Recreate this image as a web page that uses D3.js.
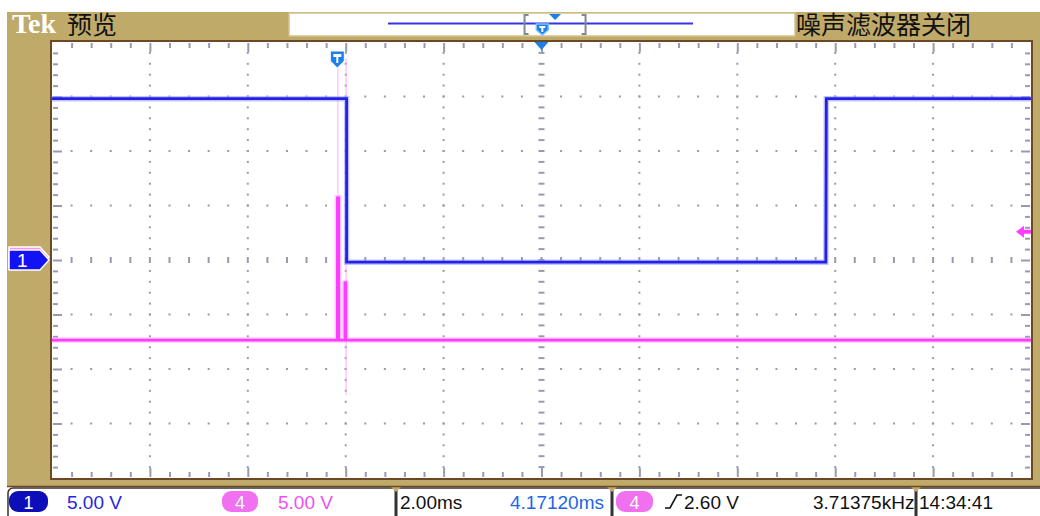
<!DOCTYPE html>
<html><head><meta charset="utf-8">
<script src="https://cdn.jsdelivr.net/npm/d3@7"></script>
<style>html,body{margin:0;padding:0;background:#fff;}svg{display:block}</style>
</head><body><svg id="scope" width="1040" height="516"></svg>
<script>
// Acquisition settings
const timePerDiv = 2.00;      // ms/div
const horizPos = 4.17120;     // ms at screen centre, relative to trigger
const ch1VoltsPerDiv = 5.00;
const ch4VoltsPerDiv = 5.00;
const trigLevel = 2.60;       // V, ch4 rising edge
const freqText = "3.71375kHz";
const clockText = "14:34:41";
const recordSpan = [-50.6, 49.4]; // ms covered by the full record

// Channel 1 record (time in ms, volts)
const ch1Time = [-5.83, 0.19, 0.19, 9.98, 9.99, 14.17];
const ch1Volt = [14.8, 14.8, -0.2, -0.2, 14.8, 14.8];

// Channel 4 record
const ch4Time = [-5.83, 0.00, 0.00, 0.03, 0.03, 0.155, 0.155, 0.175, 0.175, 14.17];
const ch4Volt = [-7.35, -7.35, 5.7, 5.7, -7.35, -7.35, -2.1, -2.1, -7.35, -7.35];

// Faint fast-edge traces on ch4 (time, top volts, bottom volts)
const ch4GhostTime = [0.01, 0.18];
const ch4GhostTop = [18.0, 18.5];
const ch4GhostBottom = [5.7, -12.4];

const W = 1040, H = 516;
const plot = {l: 52, r: 1031, t: 42, b: 478};
const tan = "#BFAA6A", brown = "#6E4824";
const blue = "#2222E6", pink = "#FF3CFF", azure = "#1E7FE6";

const svg = d3.select("#scope");

const x = d3.scaleLinear()
  .domain([horizPos - 5 * timePerDiv, horizPos + 5 * timePerDiv])
  .range([plot.l, plot.r]);
const y1 = d3.scaleLinear().domain([-4 * ch1VoltsPerDiv, 4 * ch1VoltsPerDiv]).range([plot.b, plot.t]);
const y4 = d3.scaleLinear().domain([-4 * ch4VoltsPerDiv, 4 * ch4VoltsPerDiv]).range([plot.b, plot.t]);

// Frame
svg.append("rect").attr("x", 0).attr("y", 0).attr("width", W).attr("height", H).attr("fill", "#fff");
svg.append("rect").attr("x", 7).attr("y", 12).attr("width", W - 7).attr("height", 475).attr("fill", tan);
svg.append("rect").attr("x", plot.l).attr("y", plot.t).attr("width", plot.r - plot.l).attr("height", plot.b - plot.t)
  .attr("fill", "#fff");

// Graticule
const minorX = d3.range(0, 51).map(i => x.domain()[0] + i * timePerDiv / 5);
const minorY = d3.range(0, 41).map(i => -20 + i * ch1VoltsPerDiv / 5);
const majorX = d3.range(1, 10).map(i => x.domain()[0] + i * timePerDiv);
const majorY = d3.range(1, 8).map(i => -20 + i * ch1VoltsPerDiv);
const grid = svg.append("g").attr("fill", "#9A9AAE");
const centreT = horizPos;

majorX.forEach(t => {
  if (Math.abs(t - centreT) < 1e-6) return;
  minorY.slice(1, -1).forEach(v => {
    if (Math.abs(v) < 1e-6) return;
    grid.append("rect").attr("x", x(t) - 1).attr("y", y1(v) - 1).attr("width", 2).attr("height", 2);
  });
});
majorY.forEach(v => {
  if (Math.abs(v) < 1e-6) return;
  minorX.slice(1, -1).forEach(t => {
    if (Math.abs(t - centreT) < 1e-6) return;
    grid.append("rect").attr("x", x(t) - 1).attr("y", y1(v) - 1).attr("width", 2).attr("height", 2);
  });
});
// centre crosshair ticks
minorX.slice(1, -1).forEach(t => {
  grid.append("rect").attr("x", x(t) - 1).attr("y", y1(0) - 3).attr("width", 2).attr("height", 6);
});
minorY.slice(1, -1).forEach(v => {
  grid.append("rect").attr("x", x(centreT) - 3).attr("y", y1(v) - 1).attr("width", 6).attr("height", 2);
});

// Border ticks via axes
const tickColor = "#9A9AAE";
function edgeAxis(axis, tx, ty) {
  const g = svg.append("g").attr("transform", `translate(${tx},${ty})`).call(axis);
  g.select(".domain").remove();
  g.selectAll("text").remove();
  g.selectAll("line").attr("stroke", tickColor).attr("stroke-width", 2);
  return g;
}
const minorXIn = minorX.slice(1, -1);
const minorYIn = minorY.slice(1, -1);
const isMajX = t => Math.abs(((t - x.domain()[0]) / timePerDiv) - Math.round((t - x.domain()[0]) / timePerDiv)) < 1e-6;
const isMajY = v => Math.abs(v / ch1VoltsPerDiv - Math.round(v / ch1VoltsPerDiv)) < 1e-6;
edgeAxis(d3.axisBottom(x).tickValues(minorXIn).tickSize(5).tickSizeOuter(0), 0, plot.t + 1)
  .selectAll("line").attr("y2", d => isMajX(d) ? 9 : 5);
edgeAxis(d3.axisTop(x).tickValues(minorXIn).tickSize(5).tickSizeOuter(0), 0, plot.b - 1)
  .selectAll("line").attr("y2", d => isMajX(d) ? -9 : -5);
edgeAxis(d3.axisRight(y1).tickValues(minorYIn).tickSize(5).tickSizeOuter(0), plot.l + 1, 0)
  .selectAll("line").attr("x2", d => isMajY(d) ? 9 : 5);
edgeAxis(d3.axisLeft(y1).tickValues(minorYIn).tickSize(5).tickSizeOuter(0), plot.r - 1, 0)
  .selectAll("line").attr("x2", d => isMajY(d) ? -9 : -5);

// Plot border
svg.append("rect").attr("x", plot.l - 1).attr("y", plot.t - 1).attr("width", plot.r - plot.l + 2)
  .attr("height", plot.b - plot.t + 2).attr("fill", "none").attr("stroke", brown).attr("stroke-width", 2);

// Waveforms
const traces = svg.append("g");
ch4GhostTime.forEach((t, i) => {
  traces.append("line").attr("x1", x(t)).attr("x2", x(t))
    .attr("y1", y4(ch4GhostTop[i])).attr("y2", y4(ch4GhostBottom[i]))
    .attr("stroke", "#FF9CFF").attr("stroke-width", 1.5).attr("opacity", 0.55);
});
const line1 = d3.line().x(i => x(ch1Time[i])).y(i => y1(ch1Volt[i]));
const line4 = d3.line().x(i => x(ch4Time[i])).y(i => y4(ch4Volt[i]));
const idx1 = d3.range(ch1Time.length), idx4 = d3.range(ch4Time.length);
traces.append("path").attr("d", line4(idx4)).attr("fill", "none").attr("stroke", "#FFA8FF").attr("stroke-width", 5.5).attr("opacity", 0.6);
traces.append("path").attr("d", line4(idx4)).attr("fill", "none").attr("stroke", pink).attr("stroke-width", 2.6);
traces.append("path").attr("d", line1(idx1)).attr("fill", "none").attr("stroke", "#9C9CFF").attr("stroke-width", 5.5).attr("opacity", 0.6);
traces.append("path").attr("d", line1(idx1)).attr("fill", "none").attr("stroke", blue).attr("stroke-width", 2.8);

// Channel ground markers (left)
function groundMarker(yc, fill, label, dy) {
  const g = svg.append("g").attr("transform", `translate(0,${yc + dy})`);
  g.append("path").attr("d", "M9,-10 H40 L49,0 L40,10 H9 Z").attr("fill", fill)
    .attr("stroke", "#fff").attr("stroke-width", 1.5).attr("stroke-linejoin", "round");
  if (label) g.append("text").attr("x", 17).attr("y", 7).attr("fill", "#fff")
    .attr("font-family", "Liberation Sans, Arial, sans-serif").attr("font-size", 19).text(label);
}
groundMarker(y4(0), "#FF90FF", "", -3);
groundMarker(y1(0), "#1212F2", "1", 0);

// Trigger level marker (right)
const ty = y4(trigLevel);
svg.append("path").attr("d", `M${plot.r - 15},${ty} L${plot.r - 7},${ty - 6} L${plot.r - 7},${ty - 2} H${plot.r} V${ty + 2} H${plot.r - 7} L${plot.r - 7},${ty + 6} Z`)
  .attr("fill", pink);

// Trigger position marker on top of graticule
const tx = x(0);
svg.append("path").attr("d", `M${tx - 7},${plot.t + 9} H${tx + 7} V${plot.t + 19} L${tx},${plot.t + 26} L${tx - 7},${plot.t + 19} Z`)
  .attr("fill", azure).attr("stroke", "#fff").attr("stroke-width", 1);
svg.append("path").attr("d", `M${tx - 4},${plot.t + 12} H${tx + 4} V${plot.t + 15} H${tx + 1} V${plot.t + 21} H${tx - 1} V${plot.t + 15} H${tx - 4} Z`).attr("fill", "#fff");
// Centre marker
const cx = x(horizPos);
svg.append("path").attr("d", `M${cx - 7},${plot.t} H${cx + 7} L${cx},${plot.t + 8} Z`).attr("fill", azure);

// Header
const sans = "Liberation Sans, Arial, sans-serif";
const cjk = "Noto Sans CJK SC, sans-serif";
svg.append("text").attr("x", 12).attr("y", 33).attr("fill", "#fff").attr("font-family", "Liberation Serif, serif")
  .attr("font-weight", "bold").attr("font-size", 28).text("Tek");
svg.append("text").attr("x", 67).attr("y", 34).attr("fill", "#111").attr("font-family", cjk)
  .attr("font-size", 25).text("预览");
svg.append("text").attr("x", 796).attr("y", 34).attr("fill", "#111").attr("font-family", cjk)
  .attr("font-size", 25).text("噪声滤波器关闭");

// Record overview bar
svg.append("rect").attr("x", 289).attr("y", 13).attr("width", 506).attr("height", 23)
  .attr("fill", "#fff").attr("stroke", "#D4C28A").attr("stroke-width", 1.5);
const ov = d3.scaleLinear().domain(recordSpan).range([388, 693]);
svg.append("line").attr("x1", ov(recordSpan[0])).attr("x2", ov(recordSpan[1])).attr("y1", 23.5).attr("y2", 23.5)
  .attr("stroke", "#3434E4").attr("stroke-width", 2);
const bx0 = ov(x.domain()[0]), bx1 = ov(x.domain()[1]);
const brk = svg.append("g").attr("fill", "none").attr("stroke", "#7E8C8C").attr("stroke-width", 2);
brk.append("path").attr("d", `M${bx0 + 4},15 H${bx0} V34 H${bx0 + 4}`);
brk.append("path").attr("d", `M${bx1 - 4},15 H${bx1} V34 H${bx1 - 4}`);
const otx = ov(0);
svg.append("path").attr("d", `M${otx - 6},24 H${otx + 6} V30 L${otx},35 L${otx - 6},30 Z`)
  .attr("fill", azure).attr("stroke", "#7CC4FF").attr("stroke-width", 1.5);
svg.append("path").attr("d", `M${otx - 3},26 H${otx + 3} V28 H${otx + 1} V32 H${otx - 1} V28 H${otx - 3} Z`).attr("fill", "#fff");
const ocx = ov(horizPos);
svg.append("path").attr("d", `M${ocx - 6},14 H${ocx + 6} L${ocx},20 Z`).attr("fill", azure);

// Status bar
const sb = svg.append("g");
sb.append("rect").attr("x", 8).attr("y", 488).attr("width", 1040).attr("height", 40).attr("rx", 5)
  .attr("fill", "#fff").attr("stroke", "#333").attr("stroke-width", 1.5);
svg.append("line").attr("x1", 7).attr("x2", W).attr("y1", 486.5).attr("y2", 486.5).attr("stroke", brown).attr("stroke-width", 1.5);
[396, 612, 916].forEach(sx => {
  sb.append("rect").attr("x", sx - 1.5).attr("y", 487).attr("width", 3).attr("height", 30).attr("fill", "#333");
  sb.append("path").attr("d", `M${sx - 5},487 H${sx + 5} L${sx},492 Z`).attr("fill", tan);
});
function pill(px, w, fill, label) {
  sb.append("rect").attr("x", px).attr("y", 491).attr("width", w).attr("height", 21).attr("rx", 9).attr("fill", fill);
  sb.append("text").attr("x", px + w / 2).attr("y", 509).attr("text-anchor", "middle").attr("fill", "#fff")
    .attr("font-family", sans).attr("font-size", 18).text(label);
}
function stxt(tx0, fill, s) {
  sb.append("text").attr("x", tx0).attr("y", 509).attr("fill", fill).attr("font-family", sans)
    .attr("font-size", 19).text(s);
}
pill(9, 39, "#0E0EB8", "1");
stxt(67, "#2626E0", ch1VoltsPerDiv.toFixed(2) + " V");
pill(222, 36, "#F070F0", "4");
stxt(278, "#F050F0", ch4VoltsPerDiv.toFixed(2) + " V");
stxt(400, "#111", timePerDiv.toFixed(2) + "ms");
stxt(510, "#2266E6", horizPos.toFixed(5) + "ms");
pill(616, 37, "#F070F0", "4");
sb.append("path").attr("d", "M665,508 H670 L677,495 H682").attr("fill", "none").attr("stroke", "#111").attr("stroke-width", 1.6);
stxt(684, "#111", trigLevel.toFixed(2) + " V");
stxt(813, "#111", freqText);
stxt(919, "#111", clockText);
</script></body></html>
